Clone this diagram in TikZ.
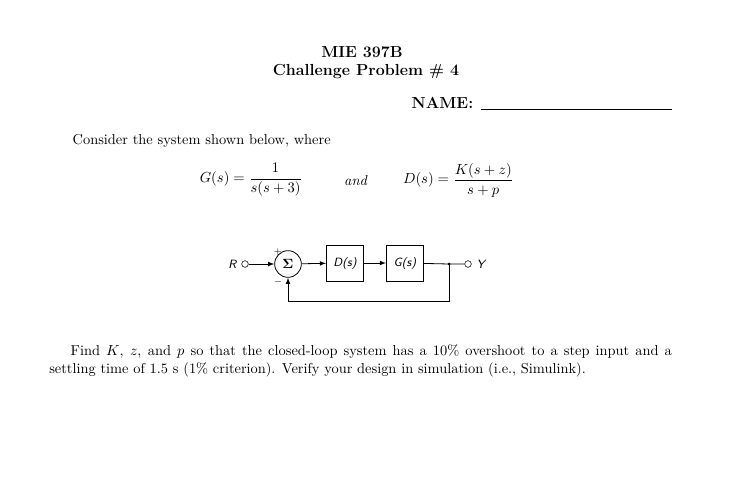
\documentclass[tikz,border=0pt]{standalone}
\usepackage{amsmath}
\begin{document}
\begin{tikzpicture}[x=0.75pt,y=-0.75pt,font=\fontsize{10.8}{13.5}\selectfont,
  blk/.style={draw,semithick,minimum width=28pt,minimum height=27pt,inner sep=0pt,font=\sffamily\itshape\small},
  term/.style={draw,circle,inner sep=0pt,minimum size=5pt},
  ar/.style={-latex,semithick}]
\useasboundingbox (0,0) rectangle (750,489);
\node[font=\large\bfseries] at (362,52) {MIE 397B};
\node[font=\large\bfseries] at (366,72) {Challenge Problem \# 4};
\node[font=\large\bfseries,anchor=east] at (478,103) {NAME:};
\draw (481,109) -- (672,109);
\node[anchor=west] at (68,141) {Consider the system shown below, where};
\node[anchor=east] at (307,180) {$G(s)=\dfrac{1}{s(s+3)}$};
\node at (356,181) {\textit{and}};
\node[anchor=east] at (518,180) {$D(s)=\dfrac{K(s+z)}{s+p}$};
% block diagram
\node[term] (r) at (245,264) {};
\node[font=\itshape\sffamily\small,anchor=east] at (241,264) {R};
\node[draw,semithick,circle,minimum size=20pt,inner sep=0pt,font=\bfseries] (sum) at (288,264) {$\boldsymbol\Sigma$};
\node[blk] (d) at (345,263) {D(s)};
\node[blk] (g) at (405,263) {G(s)};
\coordinate (j) at (449,264);
\node[term] (y) at (468,264) {};
\node[font=\itshape\sffamily\small,anchor=west] at (472,264) {Y};
\coordinate (fb) at (449,301);
\coordinate (fs) at (288,301);
\draw[ar] (r) -- (sum);
\draw[ar] (sum) -- (d);
\draw[ar] (d) -- (g);
\draw[semithick] (g) -- (j) -- (y);
\fill (j) circle (1.5);
\draw[ar] (j) -- (fb) -- (fs) -- (sum);
\node[font=\scriptsize] at (278,252) {$+$};
\node[font=\scriptsize] at (278,282) {$-$};
\node[anchor=north west,text width=467pt,align=justify,inner sep=0pt] at (49,344)
{\hspace*{16pt}Find $K$, $z$, and $p$ so that the closed-loop system has a 10\% overshoot to a step input and a settling time of 1.5 s (1\% criterion). Verify your design in simulation (i.e., Simulink).};
\end{tikzpicture}
\end{document}
